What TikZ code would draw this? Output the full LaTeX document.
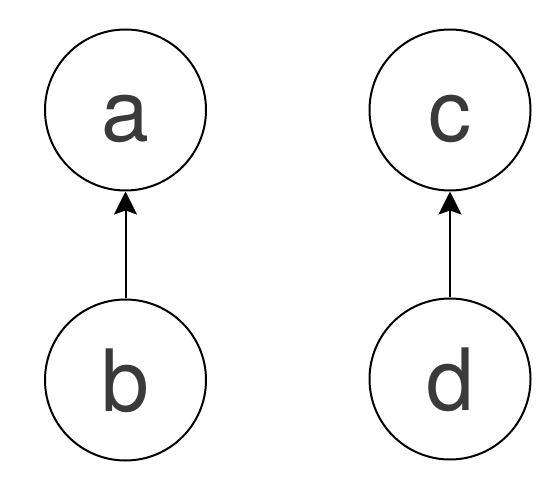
\documentclass[tikz,border=0pt]{standalone}
\usepackage{fontspec}
\setmainfont{TeX Gyre Heros}
\usetikzlibrary{arrows.meta}
\definecolor{txt}{HTML}{3A3A3A}
\begin{document}
\begin{tikzpicture}[x=1pt,y=1pt,
  vert/.style={circle,draw=black,line width=2pt,minimum size=161pt,inner sep=0pt,
    font=\fontsize{86}{86}\selectfont,text=txt,text height=63pt,text depth=0pt},
  edge/.style={line width=2pt,-{Stealth[length=23pt,width=23pt,inset=4pt]}}]
\useasboundingbox (0,0) rectangle (556,482);
\node[vert] (a) at (125.5,372) {a};
\node[vert] (b) at (125.5,102) {b};
\node[vert] (c) at (450,372) {c};
\node[vert] (d) at (450,103) {d};
\draw[edge] (b) -- (a);
\draw[edge] (d) -- (c);
\end{tikzpicture}
\end{document}
